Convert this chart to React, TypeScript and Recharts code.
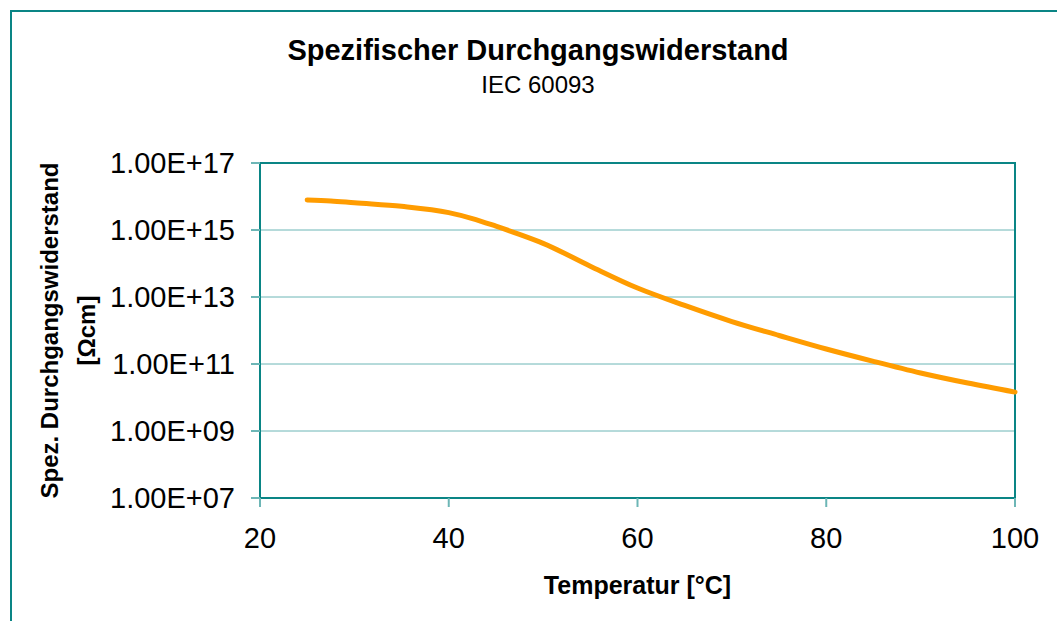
import { CartesianGrid, Label, Line, LineChart, ReferenceArea, XAxis, YAxis } from "recharts";

const temperature = [25, 27.5, 30, 35, 40, 42.5, 45, 47.5, 50, 55, 60, 65, 70, 75, 80, 85, 90, 95, 100];
const resistivity = [
  7.9e15, 7.4e15, 6.5e15, 5.1e15, 3.3e15, 2.2e15, 1.3e15, 7.4e14, 4.0e14, 8.3e13, 1.85e13, 5.6e12, 1.85e12,
  7.1e11, 2.8e11, 1.2e11, 5.4e10, 2.7e10, 1.45e10,
];
const xTicks = [20, 40, 60, 80, 100];
const yTicks = [1e7, 1e9, 1e11, 1e13, 1e15, 1e17];

const title = "Spezifischer Durchgangswiderstand";
const subtitle = "IEC 60093";
const xTitle = "Temperatur [°C]";
const yTitle = ["Spez. Durchgangswiderstand", "[Ωcm]"];

const TEAL = "#0a8585";
const GRID = "#6db6b6";
const FONT = "'Liberation Sans', Arial, sans-serif";

const data = temperature.map((t, i) => ({ t, r: resistivity[i] }));

// Excel style: 1.00E+07
const sci = (v: number) => {
  const [m, e] = v.toExponential(2).split("e");
  const n = Math.abs(Number(e));
  return `${m}E${Number(e) < 0 ? "-" : "+"}${String(n).padStart(2, "0")}`;
};

function YTitle(props: any) {
  const vb = props.viewBox;
  const cy = vb.y + vb.height / 2;
  return (
    <g fontFamily={FONT} fontWeight="bold" fontSize={24} fill="#000" textAnchor="middle">
      <text x={49} y={cy} transform={`rotate(-90 49 ${cy})`} dominantBaseline="central">
        {yTitle[0]}
      </text>
      <text x={86} y={cy} transform={`rotate(-90 86 ${cy})`} dominantBaseline="central">
        {yTitle[1]}
      </text>
    </g>
  );
}

export default function App() {
  return (
    <div
      style={{
        position: "absolute",
        left: 0,
        top: 0,
        width: 1057,
        height: 621,
        overflow: "hidden",
        background: "#fff",
        fontFamily: FONT,
      }}
    >
      <div
        style={{
          position: "absolute",
          left: 10,
          top: 10,
          width: 1200,
          height: 800,
          border: `2px solid ${TEAL}`,
        }}
      />
      <div style={{ position: "absolute", left: 0, width: 1076, top: 34, textAlign: "center", fontSize: 29, fontWeight: "bold", color: "#000" }}>
        {title}
      </div>
      <div style={{ position: "absolute", left: 0, width: 1076, top: 71, textAlign: "center", fontSize: 24, color: "#000" }}>
        {subtitle}
      </div>
      <div style={{ position: "absolute", left: 0, top: 0 }}>
        <LineChart width={1057} height={621} data={data} margin={{ top: 163, right: 42, bottom: 43, left: 0 }}>
          <CartesianGrid horizontal vertical={false} stroke={GRID} strokeWidth={1} />
          <XAxis
            dataKey="t"
            type="number"
            domain={[20, 100]}
            ticks={xTicks}
            height={80}
            axisLine={{ stroke: TEAL, strokeWidth: 2 }}
            tickLine={{ stroke: GRID, strokeWidth: 2 }}
            tickSize={9}
            tickMargin={20}
            tick={{ fill: "#000", fontSize: 29, fontFamily: FONT }}
          >
            <Label
              value={xTitle}
              position="bottom"
              offset={-2}
              style={{ fontFamily: FONT, fontSize: 25, fontWeight: "bold", fill: "#000" }}
            />
          </XAxis>
          <YAxis
            type="number"
            scale="log"
            domain={[1e7, 1e17]}
            ticks={yTicks}
            width={260}
            allowDataOverflow
            axisLine={{ stroke: TEAL, strokeWidth: 2 }}
            tickLine={{ stroke: GRID, strokeWidth: 2 }}
            tickSize={9}
            tickMargin={16}
            tick={{ fill: "#000", fontSize: 29, fontFamily: FONT }}
            tickFormatter={sci}
          >
            <Label content={YTitle} />
          </YAxis>
          <ReferenceArea x1={20} x2={100} y1={1e7} y2={1e17} fill="none" stroke={TEAL} strokeWidth={2} ifOverflow="visible" />
          <Line
            type="monotone"
            dataKey="r"
            stroke="#ff9c00"
            strokeWidth={5}
            dot={false}
            strokeLinecap="round"
            isAnimationActive={false}
          />
        </LineChart>
      </div>
    </div>
  );
}
